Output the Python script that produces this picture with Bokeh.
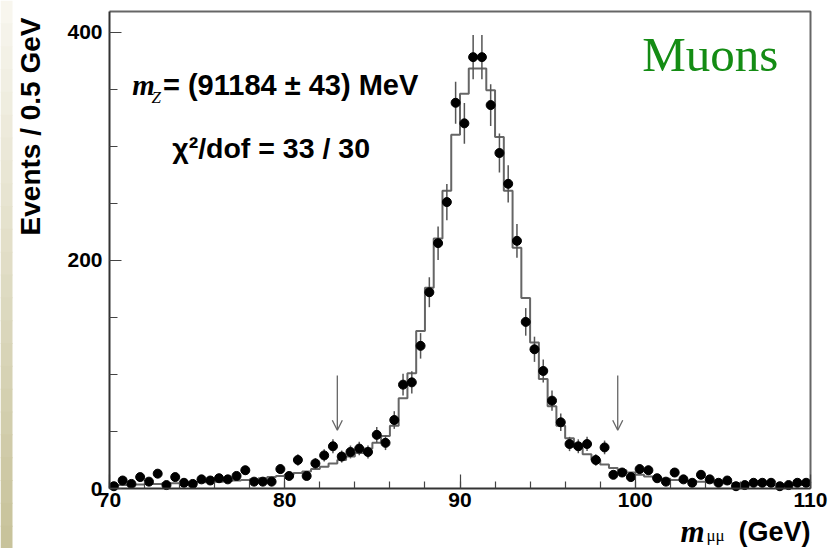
import numpy as np
from bokeh.plotting import figure
from bokeh.models import (Range1d, SingleIntervalTicker, Label, Arrow, OpenHead,
                          ColumnDataSource, BoxAnnotation)
from bokeh.embed import file_html
from bokeh.resources import INLINE

# ---- data ----
bin_width = 0.5
bin_low = [70.0 + 0.5 * i for i in range(80)]  # bin lower edges 70..109.5
counts = [
    2, 7, 4, 10, 6, 13, 3, 10, 5, 4,
    8, 7, 9, 8, 11, 16, 6, 6, 6, 17,
    11, 25, 11, 22, 29, 37, 28, 32, 35, 32,
    47, 40, 60, 91, 93, 125, 172, 215, 251, 338,
    320, 378, 378, 336, 294, 267, 217, 146, 122, 103,
    77, 58, 39, 37, 39, 25, 36, 12, 14, 10,
    17, 16, 9, 6, 14, 8, 5, 12, 8, 5,
    7, 2, 3, 5, 5, 5, 2, 3, 5, 5,
]
fit = [
    3, 3, 3.5, 3.5, 4, 4, 4.5, 4.5, 5, 5,
    5.5, 6, 6, 6.5, 7, 7.5, 8, 9, 10, 11,
    12, 13.5, 15, 17, 19, 22, 25, 28, 31, 35,
    40, 46, 55, 79, 101, 138, 176, 219, 261, 310,
    346, 368, 368, 349, 308, 261, 211, 167, 128, 96,
    72, 55, 44, 36, 30, 25, 21, 18, 16, 14,
    12, 10.5, 9.5, 8.5, 7.5, 7, 6.5, 6, 5.5, 5,
    4.5, 4.5, 4, 4, 3.5, 3.5, 3.5, 3, 3, 3,
]
arrow_x = [83, 99]
x_min, x_max = 70.0, 110.0
y_min, y_max = 0.0, 418.0
x_ticks_interval = 10
y_ticks_interval = 200

centers = np.array(bin_low) + bin_width / 2
cnt = np.array(counts, dtype=float)
err = np.sqrt(cnt)

# ---- layout: the frame fills the canvas; axes are fixed inside it ----
W, H = 833, 548
PX_L, PX_R, PX_T, PX_B = 109.0, 810.0, 11.0, 488.0   # plot-box pixel edges
sx = (PX_R - PX_L) / (x_max - x_min)
sy = (PX_B - PX_T) / (y_max - y_min)
xr = Range1d(x_min - PX_L / sx, x_max + (W - PX_R) / sx)
yr = Range1d(y_min - (H - PX_B) / sy, y_max + PX_T / sy)

def dx(px):
    return x_min + (px - PX_L) / sx

def dy(py):
    return y_min + (PX_B - py) / sy

p = figure(width=W, height=H, x_range=xr, y_range=yr,
           output_backend="svg", toolbar_location=None,
           min_border_left=0, min_border_right=0, min_border_top=0, min_border_bottom=0)
p.grid.visible = False
p.background_fill_color = "white"
p.border_fill_color = "white"
p.outline_line_color = None

# left beige strip of the slide background
n_band = 24
c0 = np.array([248, 246, 238])
c1 = np.array([200, 195, 155])
for i in range(n_band):
    f = i / (n_band - 1)
    c = (c0 * (1 - f) + c1 * f).astype(int)
    p.add_layout(BoxAnnotation(left=dx(0), right=dx(12),
                               top=dy(H * i / n_band), bottom=dy(H * (i + 1) / n_band + 1),
                               fill_color="#%02x%02x%02x" % tuple(c), fill_alpha=1.0,
                               line_color=None, level="underlay"))

# axes
for ax in (p.xaxis[0], p.yaxis[0]):
    ax.axis_line_color = "#333333"
    ax.axis_line_width = 2
    ax.major_tick_line_color = "#444444"
    ax.minor_tick_line_color = "#444444"
    ax.major_tick_line_width = 1.2
    ax.minor_tick_line_width = 1.2
    ax.major_tick_out = 0
    ax.minor_tick_out = 0
    ax.major_label_text_font = "Liberation Sans"
    ax.major_label_text_font_style = "bold"
    ax.major_label_text_font_size = "21px"
    ax.major_label_text_color = "black"

p.xaxis.fixed_location = y_min
p.yaxis.fixed_location = x_min
p.xaxis.bounds = (x_min, x_max)
p.yaxis.bounds = (y_min, y_max)
p.xaxis.ticker = SingleIntervalTicker(interval=x_ticks_interval, num_minor_ticks=5)
p.yaxis.ticker = SingleIntervalTicker(interval=y_ticks_interval, num_minor_ticks=4)
p.xaxis.major_tick_in = 14
p.xaxis.minor_tick_in = 7
p.yaxis.major_tick_in = 12
p.yaxis.minor_tick_in = 8
p.xaxis.major_label_standoff = 4
p.yaxis.major_label_standoff = 7

# top and right edges of the plot box
p.line([x_min, x_max, x_max], [y_max, y_max, y_min], line_color="#666666", line_width=2)

# fit histogram (steps)
step_x = list(bin_low) + [x_max]
step_y = list(fit) + [fit[-1]]
p.step(step_x, step_y, mode="after", line_color="#666666", line_width=2)

# data points with errors
src = ColumnDataSource(dict(x=centers, y=cnt, lo=cnt - err, hi=cnt + err))
p.segment(x0="x", y0="lo", x1="x", y1="hi", source=src, line_color="#555555", line_width=1.5)
p.scatter("x", "y", source=src, size=9, color="black")

# arrows
for ax_ in arrow_x:
    p.add_layout(Arrow(end=OpenHead(size=10, line_color="#666666", line_width=1.3),
                       x_start=ax_, y_start=99, x_end=ax_, y_end=51,
                       line_color="#666666", line_width=1.3))

def lab(x, y, text, font="Liberation Sans", size="27px", style="bold", color="black",
        align="left", angle=0.0):
    p.add_layout(Label(x=x, y=y, text=text, text_font=font, text_font_size=size,
                       text_font_style=style, text_color=color, text_align=align,
                       text_baseline="alphabetic", angle=angle))

# annotations inside plot
lab(71.30, 353.2, "m", font="Liberation Serif", size="29px", style="bold italic")
lab(72.40, 342.2, "Z", font="Liberation Serif", size="17px", style="italic")
lab(73.05, 353.2, "= (91184 ± 43) MeV", size="29px")
lab(73.58, 298.8, "χ²/dof = 33 / 30", size="28.5px")
lab(100.40, 379.9, "Muons", font="Liberation Serif", size="49px", style="normal", color="#148c14")

# axis titles
lab(dx(680), dy(531), "m", font="Liberation Serif", size="31px", style="bold italic")
lab(dx(706), dy(535), "μμ", font="Liberation Serif", size="17px", style="normal")
lab(dx(810), dy(531), "(GeV)", size="27px", align="right")
lab(dx(30), dy(17), "Events / 0.5 GeV", size="28px", align="right", angle=np.pi / 2)

open("out.html", "w").write(file_html(p, INLINE))
